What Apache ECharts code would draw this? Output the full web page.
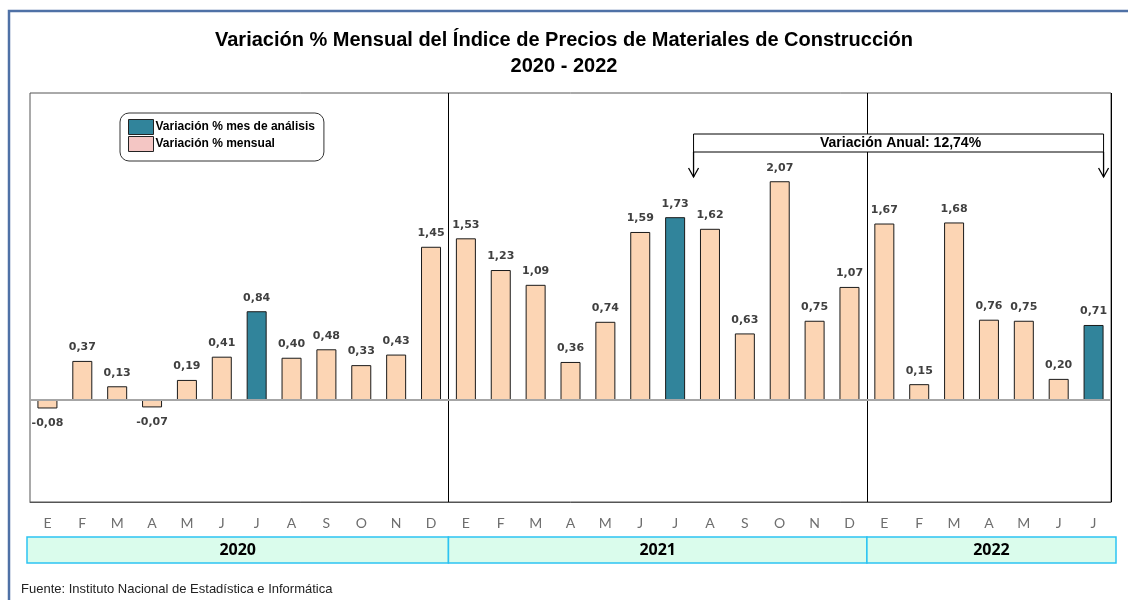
<!DOCTYPE html>
<html>
<head>
<meta charset="utf-8">
<script src="https://cdn.jsdelivr.net/npm/echarts@6/dist/echarts.min.js"></script>
<style>
  html, body { margin: 0; padding: 0; background: #ffffff; }
  #chart { width: 1128px; height: 600px; }
</style>
</head>
<body>
<div id="chart"></div>
<script>
// meses (E..D) para 2020, 2021 y ene-jul 2022
var months = ['E','F','M','A','M','J','J','A','S','O','N','D',
              'E','F','M','A','M','J','J','A','S','O','N','D',
              'E','F','M','A','M','J','J'];
var years = ['2020', '2021', '2022'];
var yearCounts = [12, 12, 7];

var values = [-0.08, 0.37, 0.13, -0.07, 0.19, 0.41, 0.84, 0.40, 0.48, 0.33, 0.43, 1.45,
              1.53, 1.23, 1.09, 0.36, 0.74, 1.59, 1.73, 1.62, 0.63, 2.07, 0.75, 1.07,
              1.67, 0.15, 1.68, 0.76, 0.75, 0.20, 0.71];
// meses de análisis (julio de cada año)
var analysisIdx = [6, 18, 30];
var annualText = 'Variación Anual: 12,74%';

var colMensual = '#FCD5B4';
var colAnalisis = '#31849B';

function fmt(v) { return v.toFixed(2).replace('.', ','); }

function toItem(v) {
  return {
    value: v,
    label: v < 0 ? { position: 'bottom', distance: 9 } : {}
  };
}

var mensual = values.map(function (v, i) { return analysisIdx.indexOf(i) >= 0 ? null : toItem(v); });
var analisis = values.map(function (v, i) { return analysisIdx.indexOf(i) >= 0 ? toItem(v) : null; });

var chart = echarts.init(document.getElementById('chart'));

var labelStyle = {
  show: true,
  position: 'top',
  distance: 8,
  fontFamily: 'DejaVu Sans',
  fontWeight: 'bold',
  fontSize: 11,
  color: '#404040',
  formatter: function (p) { return fmt(p.value); }
};

chart.setOption({
  backgroundColor: '#ffffff',
  animation: false,
  title: {
    text: 'Variación % Mensual del Índice de Precios de Materiales de Construcción\n2020 - 2022',
    left: 559,
    textAlign: 'center',
    top: 22,
    textStyle: {
      fontFamily: 'Liberation Sans',
      fontWeight: 'bold',
      fontSize: 20,
      lineHeight: 26,
      color: '#000'
    }
  },
  legend: {
    orient: 'vertical',
    left: 120,
    top: 113,
    padding: [6, 9, 9, 8],
    itemWidth: 25,
    itemHeight: 15,
    itemGap: 1,
    borderColor: '#333',
    borderWidth: 1,
    borderRadius: 9,
    icon: 'rect',
    textStyle: { fontFamily: 'Liberation Sans', fontWeight: 'bold', fontSize: 12, color: '#000', padding: [0, 0, 0, -3] },
    data: [
      { name: 'Variación % mes de análisis', itemStyle: { color: colAnalisis, borderColor: '#222', borderWidth: 1 } },
      { name: 'Variación % mensual', itemStyle: { color: '#F4C6C4', borderColor: '#222', borderWidth: 1 } }
    ]
  },
  grid: {
    left: 30, right: 17, top: 93, bottom: 98,
    show: true,
    borderColor: '#555',
    borderWidth: 1
  },
  xAxis: {
    type: 'category',
    data: months,
    axisLine: { onZero: false, lineStyle: { color: '#555' } },
    axisTick: { show: false },
    axisLabel: {
      margin: 14,
      fontFamily: 'Lato',
      fontSize: 14,
      color: '#6e6e6e'
    },
    splitLine: {
      show: true,
      interval: function (i) { return i === 12 || i === 24; },
      lineStyle: { color: '#000', width: 1 }
    }
  },
  yAxis: {
    type: 'value',
    min: -0.965,
    max: 2.905,
    show: false
  },
  series: [
    {
      name: 'Variación % mensual',
      type: 'bar',
      barWidth: 20,
      barGap: '-100%',
      data: mensual,
      itemStyle: { color: colMensual, borderColor: '#1a1a1a', borderWidth: 1 },
      label: labelStyle,
      markLine: {
        silent: true,
        symbol: 'none',
        label: { show: false },
        lineStyle: { color: '#A6A6A6', width: 2, type: 'solid' },
        data: [{ yAxis: 0 }]
      },
      z: 3
    },
    {
      name: 'Variación % mes de análisis',
      type: 'bar',
      barWidth: 20,
      barGap: '-100%',
      data: analisis,
      itemStyle: { color: colAnalisis, borderColor: '#1a1a1a', borderWidth: 1 },
      label: labelStyle,
      z: 3
    }
  ]
});

// franjas de años bajo las etiquetas de meses, y anotación de variación anual
var half = (chart.convertToPixel({ xAxisIndex: 0 }, 1) - chart.convertToPixel({ xAxisIndex: 0 }, 0)) / 2;
var graphics = [];
var start = 0;
years.forEach(function (y, k) {
  var x0 = chart.convertToPixel({ xAxisIndex: 0 }, start) - half;
  var x1 = chart.convertToPixel({ xAxisIndex: 0 }, start + yearCounts[k] - 1) + half;
  if (k === 0) x0 -= 3;
  if (k === years.length - 1) x1 += 5;
  graphics.push({
    type: 'rect',
    shape: { x: x0, y: 537, width: x1 - x0, height: 26 },
    style: { fill: '#DAFCEC', stroke: '#2CC3F2', lineWidth: 1.5 }
  });
  graphics.push({
    type: 'text',
    style: {
      x: (x0 + x1) / 2, y: 550, text: y,
      font: 'bold 16px "Open Sans"', fill: '#000',
      align: 'center', verticalAlign: 'middle'
    }
  });
  start += yearCounts[k];
});

var ax0 = chart.convertToPixel({ xAxisIndex: 0 }, analysisIdx[1]) + half + 1;
var ax1 = chart.convertToPixel({ xAxisIndex: 0 }, analysisIdx[2]) + 10;
graphics.push({
  type: 'rect',
  shape: { x: ax0, y: 134, width: ax1 - ax0, height: 18 },
  style: { fill: '#fff', stroke: '#000', lineWidth: 1 }
});
graphics.push({
  type: 'text',
  style: {
    x: (ax0 + ax1) / 2 + 2, y: 143.5, text: annualText,
    font: 'bold 14px "Liberation Sans"', fill: '#000',
    align: 'center', verticalAlign: 'middle'
  }
});
[ax0, ax1].forEach(function (x) {
  graphics.push({
    type: 'polyline',
    shape: { points: [[x, 152], [x, 177]] },
    style: { stroke: '#000', lineWidth: 1.3, fill: null }
  });
  graphics.push({
    type: 'polyline',
    shape: { points: [[x - 5, 168], [x, 177], [x + 5, 168]] },
    style: { stroke: '#000', lineWidth: 1.3, fill: null }
  });
});

// marco exterior y fuente
graphics.push({
  type: 'rect',
  shape: { x: 9, y: 11, width: 1200, height: 700 },
  style: { fill: null, stroke: '#4F71A6', lineWidth: 2.5 },
  z: 100
});
graphics.push({
  type: 'text',
  style: {
    x: 21, y: 589, text: 'Fuente: Instituto Nacional de Estadística e Informática',
    font: '13px "Liberation Sans"', fill: '#222',
    verticalAlign: 'middle'
  }
});

chart.setOption({ graphic: graphics });

window.addEventListener('resize', function () { chart.resize(); });
</script>
</body>
</html>
